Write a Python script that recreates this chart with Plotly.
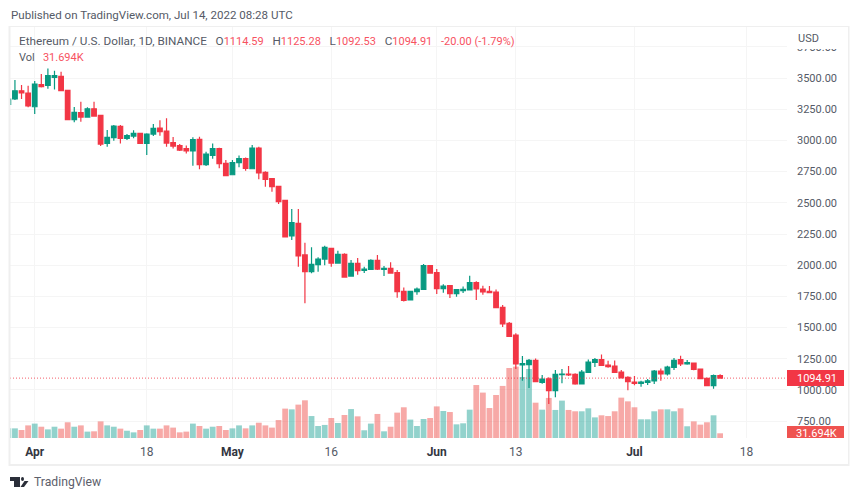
import pandas as pd
from plotly import graph_objs as go

# daily ETH/USD candles
opens = [3289, 3332, 3398, 3380, 3270, 3447, 3441, 3505, 3513, 3401, 3166, 3222, 3187, 3254, 3201, 2976, 3022, 3113, 3017, 3035, 3057, 2976, 3051, 3099, 3075, 2982, 2958, 2934, 2915, 3009, 2806, 2880, 2934, 2816, 2725, 2822, 2854, 2773, 2939, 2744, 2693, 2632, 2520, 2234, 2335,
         2082, 1948, 2004, 2049, 2135, 2017, 2087, 1913, 2015, 1959, 1967, 2039, 1967, 1975, 1940, 1790, 1721, 1788, 1806, 1996, 1940, 1812, 1836, 1772, 1796, 1801, 1860, 1809, 1790, 1785, 1662, 1534,
         1440, 1200, 1203, 1237, 1061, 1090, 994, 1123, 1128, 1125, 1048, 1141, 1221, 1243, 1200, 1192, 1144, 1101, 1064, 1053, 1061, 1072, 1152, 1128, 1181, 1243, 1208, 1216, 1168, 1093, 1034, 1114.59]
highs = [3350, 3484, 3444, 3439, 3476, 3532, 3577, 3559, 3551, 3401, 3268, 3310, 3265, 3310, 3204, 3083, 3123, 3123, 3051, 3081, 3057, 3057, 3131, 3161, 3177, 3027, 2971, 2960, 3025, 3030, 2910, 2976, 2942, 2843, 2843, 2880, 2864, 2963, 2950, 2752, 2699, 2637, 2525, 2450, 2450,
         2180, 2143, 2063, 2156, 2140, 2116, 2095, 2041, 2058, 1988, 2047, 2082, 1993, 2023, 1961, 1822, 1796, 1822, 2009, 2001, 1969, 1847, 1841, 1809, 1830, 1916, 1871, 1836, 1833, 1806, 1681, 1545,
         1454, 1272, 1248, 1253, 1120, 1101, 1160, 1168, 1192, 1133, 1160, 1245, 1256, 1285, 1235, 1237, 1160, 1109, 1112, 1074, 1088, 1160, 1173, 1195, 1256, 1275, 1240, 1221, 1171, 1099, 1123, 1125.28]
lows = [3284, 3324, 3332, 3265, 3212, 3425, 3414, 3409, 3398, 3166, 3145, 3150, 3185, 3190, 2955, 2950, 2998, 2976, 3003, 3017, 2976, 2883, 3035, 3038, 2950, 2936, 2915, 2896, 2797, 2768, 2795, 2854, 2776, 2717, 2720, 2784, 2757, 2768, 2688, 2629, 2589, 2490, 2226, 2202, 1988,
        1694, 1935, 1948, 1999, 1988, 2015, 1905, 1908, 1924, 1937, 1964, 1961, 1913, 1935, 1740, 1708, 1718, 1764, 1806, 1932, 1769, 1780, 1737, 1748, 1777, 1798, 1721, 1764, 1777, 1660, 1505, 1424,
        1168, 1074, 1016, 1061, 1050, 888, 941, 1053, 1112, 1042, 1045, 1136, 1184, 1192, 1179, 1139, 1091, 997, 1037, 1026, 1040, 1048, 1074, 1115, 1160, 1192, 1203, 1157, 1088, 1032, 1010, 1092.53]
closes = [3332, 3398, 3380, 3276, 3452, 3431, 3519, 3519, 3398, 3166, 3225, 3187, 3254, 3195, 2971, 3025, 3115, 3017, 3038, 3057, 2976, 3051, 3097, 3070, 2979, 2955, 2923, 2915, 3006, 2806, 2891, 2934, 2814, 2717, 2822, 2854, 2776, 2939, 2739, 2688, 2629, 2509, 2226, 2341, 2074,
          1948, 2007, 2049, 2143, 2017, 2087, 1905, 2015, 1956, 1969, 2039, 1969, 1975, 1937, 1788, 1718, 1790, 1809, 1996, 1937, 1812, 1833, 1772, 1804, 1806, 1860, 1809, 1785, 1780, 1660, 1529, 1430,
          1208, 1211, 1237, 1066, 1088, 994, 1125, 1128, 1120, 1048, 1144, 1224, 1243, 1197, 1187, 1141, 1096, 1066, 1053, 1064, 1074, 1152, 1128, 1184, 1237, 1208, 1219, 1165, 1091, 1034, 1115, 1094.91]
# volume in thousands
volumes = [65, 65, 54, 85, 97, 76, 58, 76, 63, 106, 76, 85, 43, 45, 112, 85, 76, 63, 49, 38, 54, 85, 63, 63, 85, 70, 38, 43, 97, 81, 63, 76, 81, 54, 65, 85, 65, 85, 103, 85, 70, 121, 198, 193, 225,
           254, 148, 81, 88, 135, 101, 155, 195, 146, 52, 97, 162, 45, 76, 171, 207, 124, 81, 128, 135, 213, 182, 175, 92, 99, 191, 357, 306, 202, 290, 351, 472,
           481, 411, 465, 238, 191, 270, 189, 252, 189, 180, 180, 200, 139, 153, 148, 180, 272, 247, 207, 126, 126, 180, 193, 193, 180, 200, 79, 112, 90, 106, 153, 31.694]

dates = pd.date_range("2022-03-28", periods=len(closes), freq="D")

price_ticks = [750, 1000, 1250, 1500, 1750, 2000, 2250, 2500, 2750, 3000, 3250, 3500, 3750]
date_ticks = ["2022-04-01", "2022-04-18", "2022-05-01", "2022-05-16", "2022-06-01", "2022-06-13", "2022-07-01", "2022-07-18"]
date_labels = ['<b style="color:#33363f">Apr</b>', "18", '<b style="color:#33363f">May</b>', "16",
               '<b style="color:#33363f">Jun</b>', "13", '<b style="color:#33363f">Jul</b>', "18"]

FONT = "Roboto"
GREEN = "#089981"
RED = "#f23645"
GRID = "#f5f5f5"
FRAME = "#efefef"
TEXT = "#555a66"

# plot area in page pixels
LEFT, RIGHT, TOP, BOTTOM = 10, 787, 27, 438


def px(x):
    return (x - LEFT) / (RIGHT - LEFT)


def py(y):
    return (BOTTOM - y) / (BOTTOM - TOP)


def label(x, y, text, size=12, color=TEXT, anchor="left", bg=None):
    fig.add_annotation(xref="paper", yref="paper", x=px(x), y=py(y), text=text, showarrow=False,
                       xanchor=anchor, yanchor="middle", align=anchor, bgcolor=bg, borderpad=0,
                       font=dict(family=FONT, size=size, color=color))


def box(x0, y0, x1, y1, color):
    fig.add_shape(type="rect", xref="paper", yref="paper", x0=px(x0), x1=px(x1), y0=py(y0), y1=py(y1),
                  fillcolor=color, line_width=0, layer="above")


fig = go.Figure()

bar_colors = ["rgba(239,83,80,0.5)" if c < o else "rgba(38,166,154,0.5)" for o, c in zip(opens, closes)]
fig.add_trace(go.Bar(x=dates, y=volumes, marker=dict(color=bar_colors, line_width=0), yaxis="y"))
fig.add_trace(go.Candlestick(x=dates, open=opens, high=highs, low=lows, close=closes, yaxis="y2",
                             whiskerwidth=0,
                             increasing=dict(line=dict(color=GREEN, width=1.2), fillcolor=GREEN),
                             decreasing=dict(line=dict(color=RED, width=1.2), fillcolor=RED)))

# last price line
fig.add_shape(type="line", xref="paper", yref="y2", x0=0, x1=1, y0=closes[-1], y1=closes[-1],
              line=dict(color="rgba(242,54,69,0.8)", width=1, dash="1px,2px"), layer="above")

fig.update_layout(
    width=859, height=499, margin=dict(l=LEFT, r=859 - RIGHT, t=TOP, b=499 - BOTTOM),
    paper_bgcolor="white", plot_bgcolor="white", showlegend=False, bargap=0.12, boxgap=0,
    font=dict(family=FONT, size=12, color=TEXT),
    xaxis=dict(type="date", range=["2022-03-28 06:00", "2022-07-24 03:30"], tickvals=date_ticks, ticktext=date_labels,
               showgrid=True, gridcolor=GRID, gridwidth=1, zeroline=False, showline=False, ticks="",
               ticklabelstandoff=5, rangeslider=dict(visible=False), tickfont=dict(family=FONT, size=12, color=TEXT)),
    yaxis=dict(range=[0, 2770], showgrid=False, zeroline=False, showticklabels=False, ticks=""),
    yaxis2=dict(range=[615, 3909], overlaying="y", side="right", tickvals=price_ticks, tickformat=".2f",
                showgrid=True, gridcolor=GRID, gridwidth=1, zeroline=False, showline=False, ticks="",
                ticklabelstandoff=9, tickfont=dict(family=FONT, size=11, color=TEXT)),
)

# frame around the chart
box(9, 26, 849, 27, FRAME)
box(9, 464, 849, 466, FRAME)
box(8.5, 26, 10.5, 466, FRAME)
box(848, 26, 849.5, 466, FRAME)
box(787.5, 27.5, 847.5, 49, "white")  # hides the top of the 3750 label

label(10, 15, "Published on TradingView.com, Jul 14, 2022 08:28 UTC", size=11.55)
label(797, 39, "USD", size=11)
red_span = '<span style="color:#f7525f;font-size:11px">%s</span>'
gap = "&#160;&#160;&#160;"
label(18, 41, "Ethereum / U.S. Dollar, 1D, BINANCE" + gap + "O" + red_span % "1114.59" + gap + "H" + red_span % "1125.28"
      + gap + "L" + red_span % "1092.53" + gap + "C" + red_span % "1094.91" + gap + red_span % "-20.00 (-1.79%)", size=11.75)
label(18, 57.5, "Vol" + gap + red_span % "31.694K", size=11)

box(787, 370, 844, 386, RED)
label(817, 378, "1094.91", size=11, color="white", anchor="center")
box(787, 426, 844, 438, "#ef5350")
label(817, 433.5, "31.694K", size=11, color="white", anchor="center")

# TradingView mark
box(10, 477, 20, 481, "#2a2e39")
box(14, 477, 20, 487, "#2a2e39")
fig.add_shape(type="circle", xref="paper", yref="paper", x0=px(21), x1=px(24), y0=py(477), y1=py(481), fillcolor="#2a2e39", line_width=0)
fig.add_shape(type="path", xref="paper", yref="paper", line_width=0, fillcolor="#2a2e39",
              path=f"M {px(24.5)} {py(481)} L {px(28.5)} {py(481)} L {px(24)} {py(487)} L {px(20.5)} {py(487)} Z")
label(33, 482, "TradingView", size=12.2, color="#5d606b")

fig.write_html("out.html", config=dict(displayModeBar=False), post_script="document.body.style.margin='0'")
